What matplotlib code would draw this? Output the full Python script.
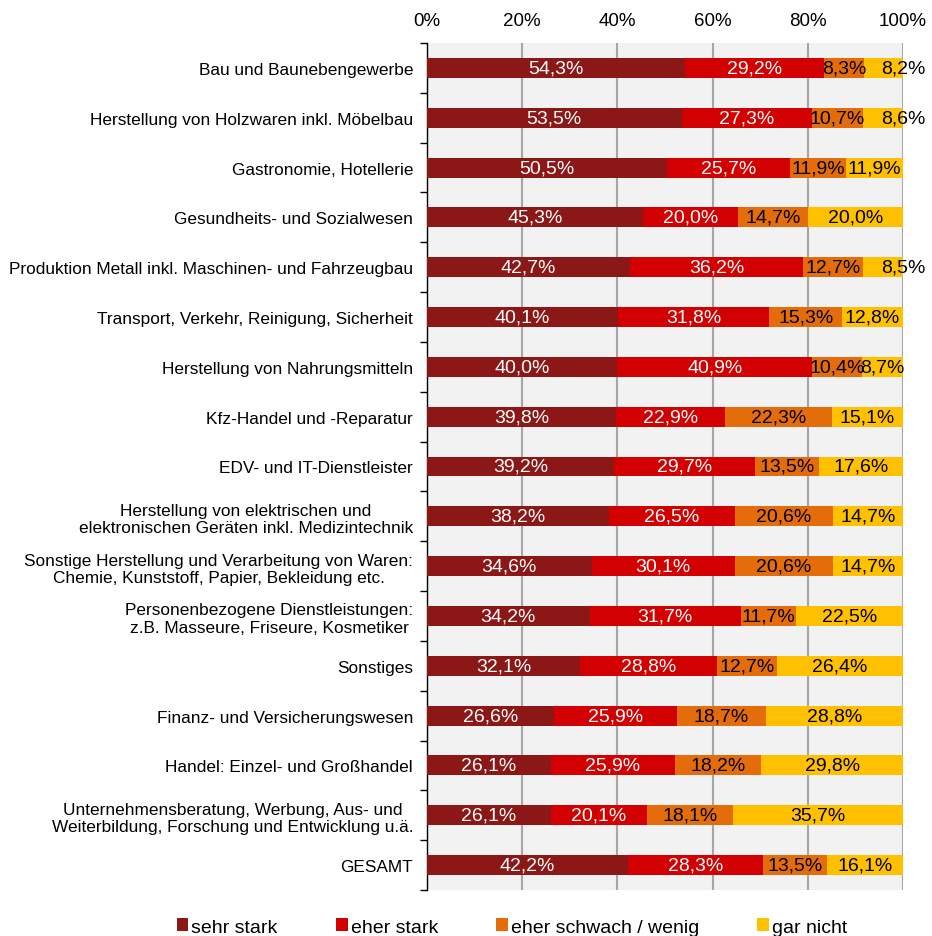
import matplotlib
matplotlib.use("Agg")
import matplotlib.pyplot as plt
import numpy as np
from matplotlib.patches import Patch

plt.rcParams['font.family'] = ['Liberation Sans', 'DejaVu Sans']

categories = [
    "Bau und Baunebengewerbe",
    "Herstellung von Holzwaren inkl. Möbelbau",
    "Gastronomie, Hotellerie",
    "Gesundheits- und Sozialwesen",
    "Produktion Metall inkl. Maschinen- und Fahrzeugbau",
    "Transport, Verkehr, Reinigung, Sicherheit",
    "Herstellung von Nahrungsmitteln",
    "Kfz-Handel und -Reparatur",
    "EDV- und IT-Dienstleister",
    "Herstellung von elektrischen und\nelektronischen Geräten inkl. Medizintechnik",
    "Sonstige Herstellung und Verarbeitung von Waren:\nChemie, Kunststoff, Papier, Bekleidung etc.",
    "Personenbezogene Dienstleistungen:\nz.B. Masseure, Friseure, Kosmetiker",
    "Sonstiges",
    "Finanz- und Versicherungswesen",
    "Handel: Einzel- und Großhandel",
    "Unternehmensberatung, Werbung, Aus- und\nWeiterbildung, Forschung und Entwicklung u.ä.",
    "GESAMT",
]
sehr_stark = [54.3, 53.5, 50.5, 45.3, 42.7, 40.1, 40.0, 39.8, 39.2, 38.2, 34.6, 34.2, 32.1, 26.6, 26.1, 26.1, 42.2]
eher_stark = [29.2, 27.3, 25.7, 20.0, 36.2, 31.8, 40.9, 22.9, 29.7, 26.5, 30.1, 31.7, 28.8, 25.9, 25.9, 20.1, 28.3]
eher_schwach = [8.3, 10.7, 11.9, 14.7, 12.7, 15.3, 10.4, 22.3, 13.5, 20.6, 20.6, 11.7, 12.7, 18.7, 18.2, 18.1, 13.5]
gar_nicht = [8.2, 8.6, 11.9, 20.0, 8.5, 12.8, 8.7, 15.1, 17.6, 14.7, 14.7, 22.5, 26.4, 28.8, 29.8, 35.7, 16.1]

series_names = ["sehr stark", "eher stark", "eher schwach / wenig", "gar nicht"]
series = [sehr_stark, eher_stark, eher_schwach, gar_nicht]
colors = ["#8B1717", "#D20000", "#E46C0A", "#FFC000"]
text_colors = ["white", "white", "black", "black"]
min_inside = 8.65  # last-segment labels of narrower segments sit at the bar end

fig = plt.figure(figsize=(9.32, 9.37), dpi=100)
ax = fig.add_axes([427/932, 1-891/937, (903-427)/932, (891-44)/937])
ax.set_facecolor("#F2F2F2")

n = len(categories)
y = np.arange(n)
left = np.zeros(n)
for k, (vals, c, tc) in enumerate(zip(series, colors, text_colors)):
    vals = np.array(vals)
    ax.barh(y, vals, left=left, height=0.4, color=c, zorder=3)
    for yi, l, v in zip(y, left, vals):
        xpos = l + v/2
        if k == len(series) - 1 and v < min_inside:
            xpos = l + v
        ax.text(xpos, yi, f"{v:.1f}%".replace(".", ","), ha="center", va="center",
                color=tc, fontsize=14, zorder=4, clip_on=False)
    left = left + vals

ax.set_xlim(0, 100)
ax.set_ylim(n - 0.5, -0.5)
ax.set_xticks([0, 20, 40, 60, 80, 100])
ax.set_xticklabels([f"{t}%" for t in [0, 20, 40, 60, 80, 100]], fontsize=13.5)
ax.xaxis.tick_top()
ax.tick_params(axis="x", length=0, pad=10)
ax.grid(axis="x", color="#A6A6A6", linewidth=1.5, zorder=1)
ax.set_axisbelow(True)

ax.set_yticks(y)
ax.set_yticklabels(categories, fontsize=12.4, multialignment="center")
ax.set_yticks(np.arange(-0.5, n, 1), minor=True)
ax.tick_params(axis="y", which="major", length=0, pad=10)
ax.tick_params(axis="y", which="minor", length=5, width=1, color="black")

for s in ["top", "right", "bottom"]:
    ax.spines[s].set_visible(False)
ax.spines["left"].set_color("black")
ax.spines["left"].set_linewidth(1)

handles = [Patch(facecolor=c, edgecolor="none") for c in colors]
fig.legend(handles, series_names, loc="center", bbox_to_anchor=(512/932, 1-928/937),
           ncol=4, frameon=False, fontsize=14, handlelength=0.6, handleheight=0.6,
           handletextpad=0.15, columnspacing=3.0, borderaxespad=0)

fig.savefig("out.png", dpi=100)
